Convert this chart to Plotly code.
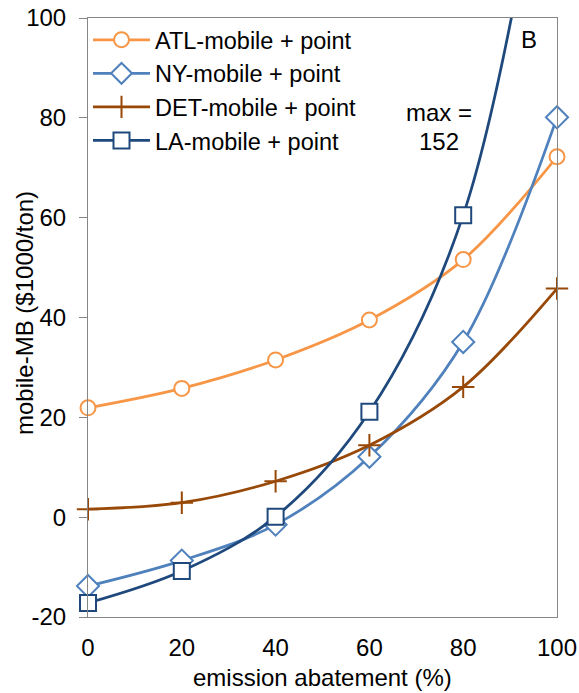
import plotly.graph_objects as go

abatement = [0, 20, 40, 60, 80, 100]
atl = [21.9, 25.8, 31.5, 39.5, 51.6, 72.2]
ny = [-13.8, -8.7, -1.5, 12.1, 35.1, 80.1]
det = [1.6, 2.9, 7.2, 14.4, 26.1, 45.8]
la = [-17.2, -10.8, 0.1, 21.1, 60.5, 152]

x_ticks = [0, 20, 40, 60, 80, 100]
y_ticks = [-20, 0, 20, 40, 60, 80, 100]
y_ticktext = ["-20", "0", "20", "40", "60", "80", "100"]

series = [
    ("ATL-mobile + point", atl, "#F79646", "circle", 15),
    ("NY-mobile + point", ny, "#4F81BD", "diamond", 17),
    ("DET-mobile + point", det, "#984807", "cross-thin", 16),
    ("LA-mobile + point", la, "#1F497D", "square", 16),
]

fig = go.Figure()
for name, vals, color, sym, size in series:
    fig.add_trace(go.Scatter(
        x=abatement, y=vals, name=name, mode="lines+markers",
        line=dict(color=color, width=2.75, shape="spline", smoothing=1.0),
        marker=dict(symbol=sym, size=size,
                    color=color if sym == "cross-thin" else "white",
                    line=dict(color=color, width=2)),
        cliponaxis=False,
    ))

font_family = "Liberation Sans, Arial, sans-serif"
L, R, T, B = 88, 22, 18, 76
pw, ph = 579 - L - R, 693 - T - B


def px_x(x):
    return (x - L) / pw


def px_y(y):
    return 1 - (y - T) / ph


fig.update_layout(
    width=579, height=693,
    margin=dict(l=L, r=R, t=T, b=B, autoexpand=False),
    plot_bgcolor="white", paper_bgcolor="white",
    font=dict(family=font_family, size=24, color="black"),
    showlegend=True,
    legend=dict(x=0.0, y=1.0, xanchor="left", yanchor="top",
                bgcolor="rgba(255,255,255,0)", font=dict(size=23.5),
                tracegroupgap=0, itemwidth=57),
    xaxis=dict(range=[0, 100], tickvals=x_ticks, automargin=False,
               showgrid=False, zeroline=False, showline=True, linecolor="#868686",
               linewidth=1, mirror=True, ticks="outside", ticklen=9,
               tickcolor="rgba(0,0,0,0)", tickfont=dict(size=24)),
    yaxis=dict(range=[-20, 100], tickvals=y_ticks, ticktext=y_ticktext, automargin=False,
               showgrid=False, zeroline=False, showline=True, linecolor="#868686",
               linewidth=1, mirror=True, ticks="outside", ticklen=8, tickcolor="#868686",
               ticklabelstandoff=8, tickfont=dict(size=24)),
    annotations=[
        dict(xref="paper", yref="paper", x=px_x(322.5), y=px_y(677),
             xanchor="center", yanchor="middle", text="emission abatement (%)",
             showarrow=False, font=dict(size=24)),
        dict(xref="paper", yref="paper", x=px_x(24), y=px_y(313),
             xanchor="center", yanchor="middle", text="mobile-MB ($1000/ton)",
             textangle=-90, showarrow=False, font=dict(size=24)),
        dict(xref="paper", yref="paper", x=px_x(529), y=px_y(40),
             xanchor="center", yanchor="middle", text="B", showarrow=False,
             font=dict(size=24)),
        dict(xref="paper", yref="paper", x=px_x(439), y=px_y(112),
             xanchor="center", yanchor="middle", text="max =", showarrow=False,
             font=dict(size=24)),
        dict(xref="paper", yref="paper", x=px_x(439), y=px_y(141),
             xanchor="center", yanchor="middle", text="152", showarrow=False,
             font=dict(size=24)),
    ],
)
fig.write_html("out.html")
